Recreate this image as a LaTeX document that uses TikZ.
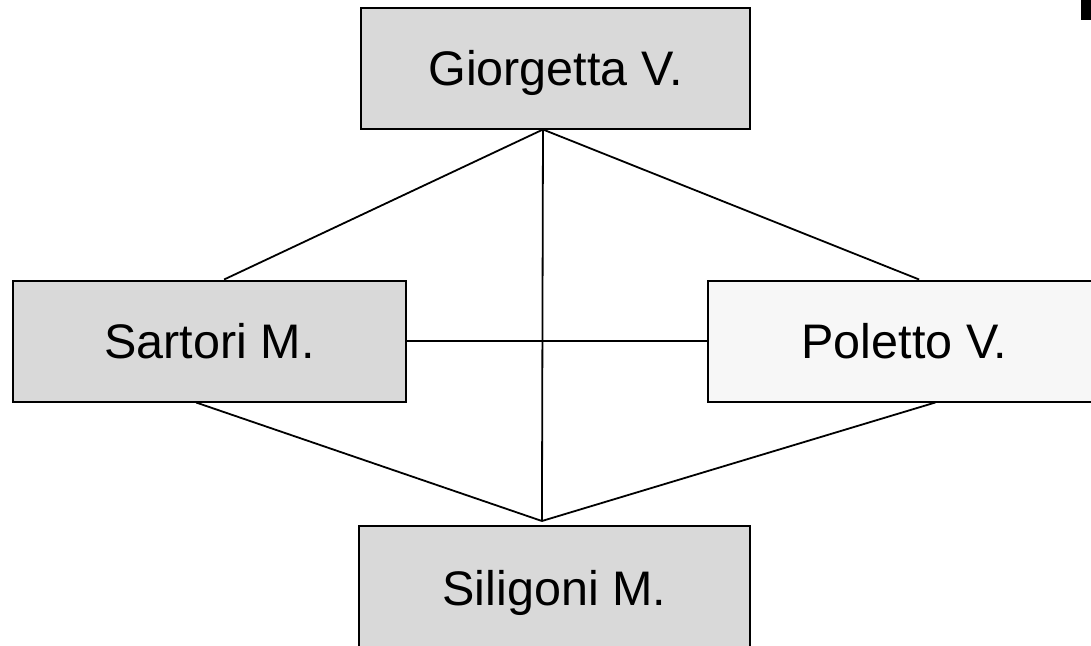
\documentclass[tikz,border=0pt]{standalone}
\usepackage{fontspec}
\setmainfont{Liberation Sans}
\usetikzlibrary{calc}
\definecolor{boxgray}{HTML}{D9D9D9}
\definecolor{boxlight}{HTML}{F7F7F7}
\tikzset{
  person/.style={draw=black, line width=2pt, fill=boxgray, rectangle,
    minimum width=391pt, minimum height=121pt, inner sep=0pt,
    text height=34pt, text depth=0pt,
    font=\fontsize{48.5pt}{58pt}\selectfont},
  link/.style={draw=black, line width=1.8pt}
}
\begin{document}
\begin{tikzpicture}[x=1pt, y=-1pt]
\useasboundingbox (0,0) rectangle (1091,645);
\clip (0,0) rectangle (1091,645);
\fill[white] (0,0) rectangle (1091,645);

% people
\node[person, minimum width=389pt] (gio) at (555.5,68) {Giorgetta V.};
\node[person, minimum width=393pt] (sar) at (209.5,341) {Sartori M.};
\node[person, minimum width=393pt, fill=boxlight] (pol) at (904.5,341) {Poletto V.};
\node[person, minimum height=124pt] (sil) at (554.5,588) {Siligoni M.};

% attachment points on the box edges
\coordinate (gtap) at ($(gio.south west)!0.468!(gio.south east)$);
\coordinate (sartop) at ($(sar.north west)!0.537!(sar.north east)$);
\coordinate (poltop) at ($(pol.north west)!0.537!(pol.north east)$);
\coordinate (sarbot) at ($(sar.south west)!0.466!(sar.south east)$);
\coordinate (polbot) at ($(pol.south west)!0.578!(pol.south east)$);
\coordinate (siltap) at ($(sil.north west)!0.468!(sil.north east) + (0,-4)$);

% connections
\draw[link] (gtap) -- (sartop);
\draw[link] (gtap) -- (poltop);
\draw[link] (gtap) -- (siltap);
\draw[link] (sar.east) -- (pol.west);
\draw[link] (sarbot) -- (siltap);
\draw[link] (polbot) -- (siltap);

% corner mark
\fill[black] (1081,0) rectangle (1091,20);
\end{tikzpicture}
\end{document}
